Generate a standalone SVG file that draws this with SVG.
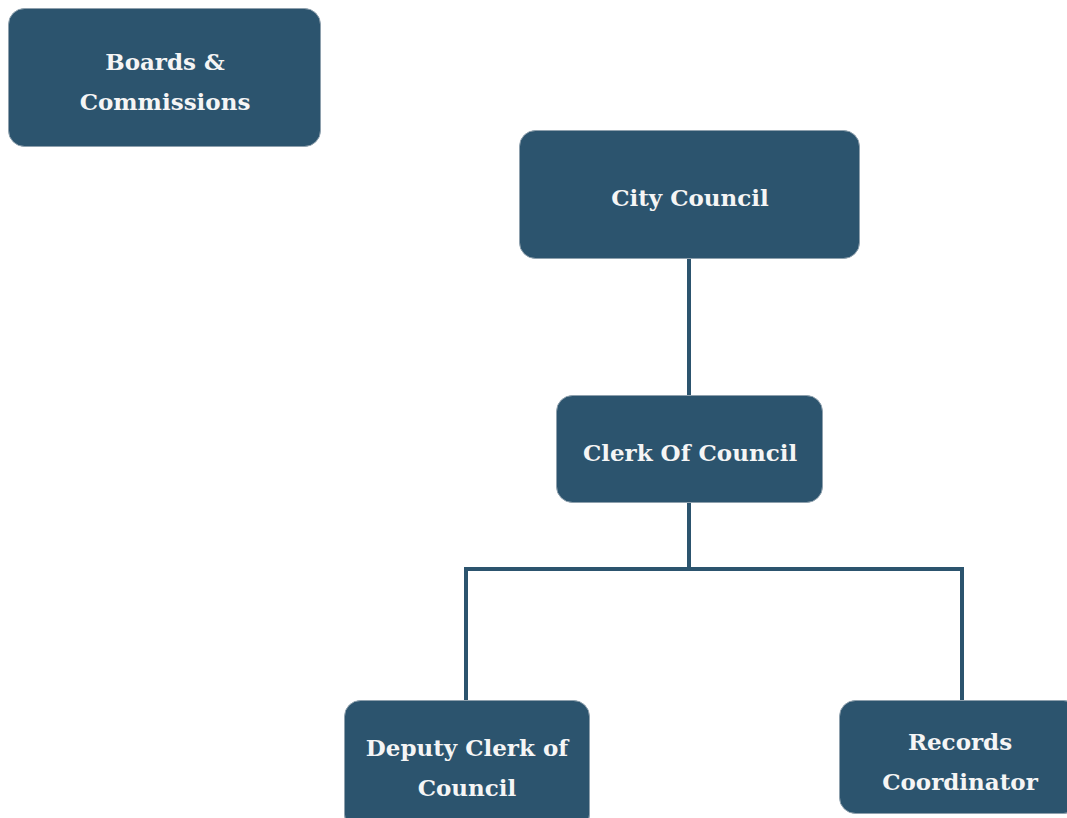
<svg xmlns="http://www.w3.org/2000/svg" width="1067" height="818" viewBox="0 0 1067 818">
<style>
.box{fill:#2c546e;stroke:#8ea0ad;stroke-width:1}
.lbl{font-family:"DejaVu Serif","Liberation Serif",serif;font-weight:bold;font-size:23px;fill:#f5f5f5;text-anchor:middle}
.con{fill:none;stroke:#2c546e;stroke-width:4}
</style>
<rect width="1067" height="818" fill="#ffffff"/>
<g id="connectors">
<line class="con" x1="689" y1="258" x2="689" y2="396"/>
<line class="con" x1="689" y1="502" x2="689" y2="570"/>
<polyline class="con" stroke-width="3.5" points="466,701 466,569 962,569 962,701"/>
</g>
<g id="boards">
<rect class="box" x="8.5" y="8.5" width="312" height="138" rx="16"/>
<text class="lbl" x="165" y="70">Boards &amp;</text>
<text class="lbl" x="165" y="110">Commissions</text>
</g>
<g id="city-council">
<rect class="box" x="519.5" y="130.5" width="340" height="128" rx="16"/>
<text class="lbl" x="690" y="206">City Council</text>
</g>
<g id="clerk">
<rect class="box" x="556.5" y="395.5" width="266" height="107" rx="16"/>
<text class="lbl" x="690" y="461">Clerk Of Council</text>
</g>
<g id="deputy">
<rect class="box" x="344.5" y="700.5" width="245" height="130" rx="16"/>
<text class="lbl" x="467" y="756">Deputy Clerk of</text>
<text class="lbl" x="467" y="796">Council</text>
</g>
<g id="records">
<rect class="box" x="839.5" y="700.5" width="240" height="113" rx="16"/>
<text class="lbl" x="960" y="750">Records</text>
<text class="lbl" x="960" y="790">Coordinator</text>
</g>
</svg>
